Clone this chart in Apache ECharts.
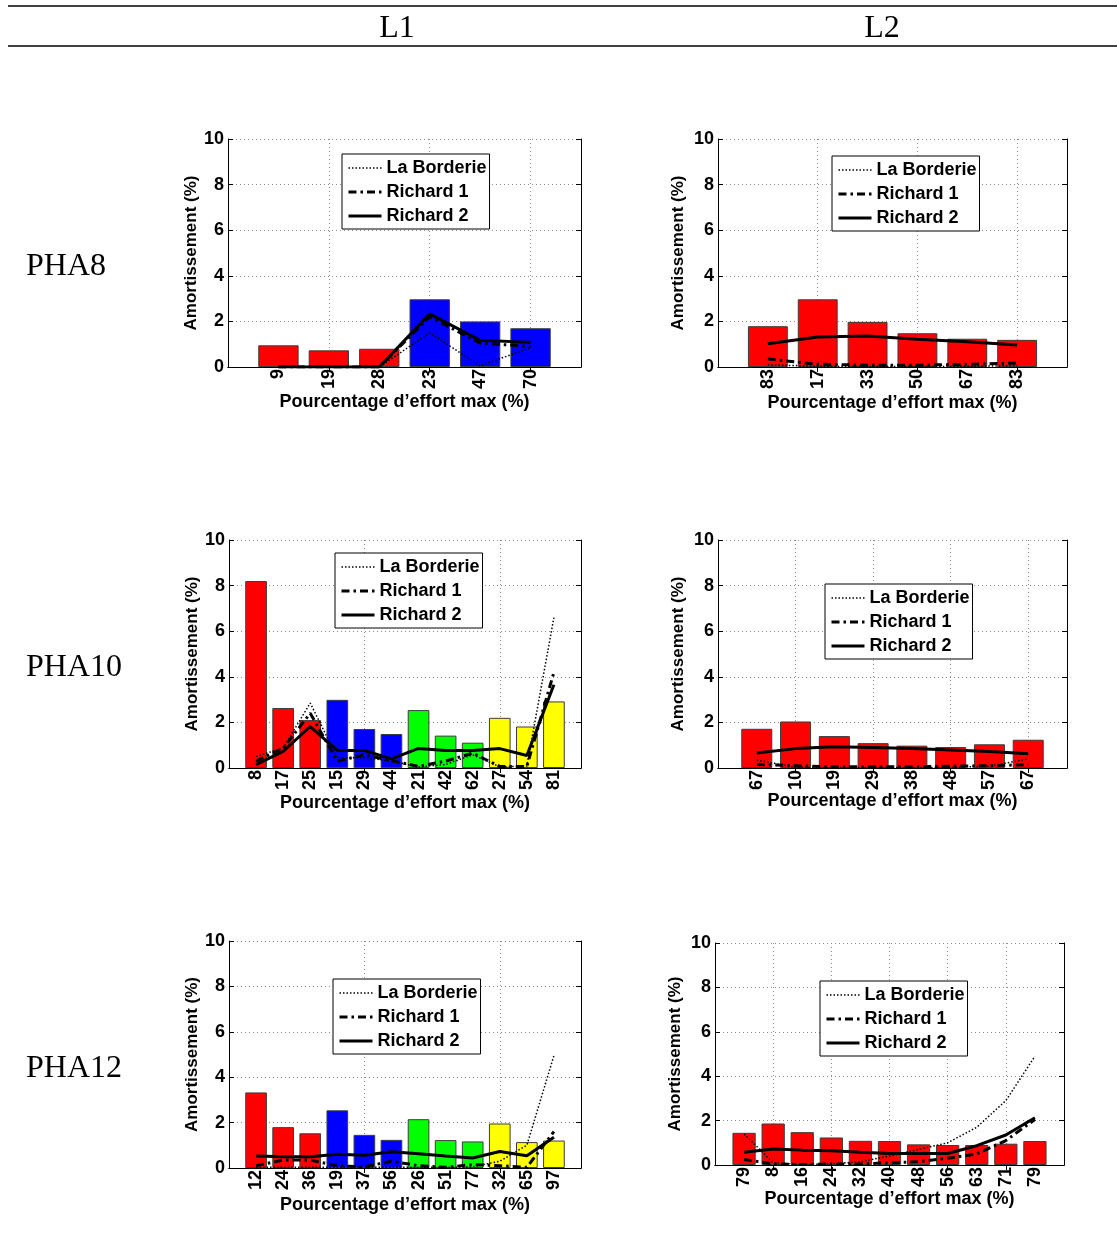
<!DOCTYPE html>
<html>
<head>
<meta charset="utf-8">
<script src="https://cdn.jsdelivr.net/npm/echarts@6/dist/echarts.min.js"></script>
<style>
  html, body { margin: 0; padding: 0; background: #fff; }
  #chart { width: 1117px; height: 1243px; }
</style>
</head>
<body>
<div id="chart"></div>
<script>
// PHA8 / L1
const pha8L1Labels = ['9', '19', '28', '23', '47', '70'];
const pha8L1Group = [0, 0, 0, 1, 1, 1];
const pha8L1Bars = [0.95, 0.73, 0.80, 2.97, 2.0, 1.70];
const pha8L1Borderie = [0, 0, 0, 1.5, 0.05, 0.85];
const pha8L1Richard1 = [0, 0, 0, 2.2, 1.05, 0.9];
const pha8L1Richard2 = [0, 0, 0, 2.33, 1.17, 1.08];

// PHA8 / L2
const pha8L2Labels = ['83', '17', '33', '50', '67', '83'];
const pha8L2Group = [0, 0, 0, 0, 0, 0];
const pha8L2Bars = [1.79, 2.97, 1.98, 1.48, 1.24, 1.19];
const pha8L2Borderie = [0.1, 0.03, 0.02, 0.02, 0.03, 0.06];
const pha8L2Richard1 = [0.35, 0.12, 0.08, 0.08, 0.12, 0.17];
const pha8L2Richard2 = [1.02, 1.32, 1.36, 1.22, 1.11, 0.97];

// PHA10 / L1
const pha10L1Labels = ['8', '17', '25', '15', '29', '44', '21', '42', '62', '27', '54', '81'];
const pha10L1Group = [0, 0, 0, 1, 1, 1, 2, 2, 2, 3, 3, 3];
const pha10L1Bars = [8.2, 2.63, 2.1, 2.99, 1.71, 1.49, 2.54, 1.42, 1.11, 2.2, 1.82, 2.92];
const pha10L1Borderie = [0.5, 0.88, 2.85, 0.45, 0.45, 0.3, 0.05, 0.15, 0.58, 0.05, 0.08, 6.6];
const pha10L1Richard1 = [0.3, 0.87, 2.4, 0.3, 0.58, 0.32, 0.07, 0.3, 0.65, 0.07, 0.07, 4.2];
const pha10L1Richard2 = [0.15, 0.73, 1.82, 0.77, 0.77, 0.4, 0.86, 0.77, 0.77, 0.85, 0.55, 3.65];

// PHA10 / L2
const pha10L2Labels = ['67', '10', '19', '29', '38', '48', '57', '67'];
const pha10L2Group = [0, 0, 0, 0, 0, 0, 0, 0];
const pha10L2Bars = [1.72, 2.04, 1.4, 1.09, 0.98, 0.92, 1.04, 1.24];
const pha10L2Borderie = [0.35, 0.03, 0.02, 0.02, 0.02, 0.03, 0.08, 0.4];
const pha10L2Richard1 = [0.15, 0.1, 0.05, 0.05, 0.05, 0.08, 0.1, 0.15];
const pha10L2Richard2 = [0.66, 0.85, 0.93, 0.9, 0.85, 0.79, 0.72, 0.63];

// PHA12 / L1
const pha12L1Labels = ['12', '24', '36', '19', '37', '56', '26', '51', '77', '32', '65', '97'];
const pha12L1Group = [0, 0, 0, 1, 1, 1, 2, 2, 2, 3, 3, 3];
const pha12L1Bars = [3.33, 1.8, 1.53, 2.54, 1.46, 1.24, 2.15, 1.23, 1.17, 1.96, 1.14, 1.21];
const pha12L1Borderie = [0.03, 0.03, 0.03, 0.03, 0.03, 0.03, 0.03, 0.03, 0.05, 0.3, 1.0, 4.95];
const pha12L1Richard1 = [0.1, 0.35, 0.35, 0.1, 0.05, 0.3, 0.1, 0.03, 0.15, 0.1, 0.03, 1.6];
const pha12L1Richard2 = [0.53, 0.5, 0.5, 0.61, 0.56, 0.72, 0.63, 0.53, 0.44, 0.73, 0.54, 1.35];

// PHA12 / L2
const pha12L2Labels = ['79', '8', '16', '24', '32', '40', '48', '56', '63', '71', '79'];
const pha12L2Group = [0, 0, 0, 0, 0, 0, 0, 0, 0, 0, 0];
const pha12L2Bars = [1.45, 1.87, 1.48, 1.24, 1.09, 1.08, 0.93, 0.9, 0.9, 0.96, 1.08];
const pha12L2Borderie = [1.4, 0.1, 0.02, 0.05, 0.15, 0.4, 0.7, 1.0, 1.7, 2.9, 4.9];
const pha12L2Richard1 = [0.25, 0.05, 0.02, 0.05, 0.05, 0.1, 0.15, 0.3, 0.5, 1.1, 2.05];
const pha12L2Richard2 = [0.57, 0.72, 0.67, 0.64, 0.57, 0.52, 0.52, 0.52, 0.87, 1.35, 2.13];

const colLabels = ['L1', 'L2'];
const rowLabels = ['PHA8', 'PHA10', 'PHA12'];
const seriesNames = ['La Borderie', 'Richard 1', 'Richard 2'];
const yTicks = { min: 0, max: 10, step: 2 };

const FONT = '"Liberation Sans", Arial, sans-serif';
const SERIF = '"Liberation Serif", "DejaVu Serif", serif';
const palette = ['#ff0000', '#0000ff', '#00ff00', '#ffff00'];
const gridColor = '#8c8c8c';
const xName = 'Pourcentage d\u2019effort max (%)';
const yName = 'Amortissement (%)';

const panels = [
  { labels: pha8L1Labels, group: pha8L1Group, bars: pha8L1Bars, lines: [pha8L1Borderie, pha8L1Richard1, pha8L1Richard2],
    box: [228, 139, 353, 228], legendAt: [342, 154], gridStep: 2, xGap: 26, yGap: 28 },
  { labels: pha8L2Labels, group: pha8L2Group, bars: pha8L2Bars, lines: [pha8L2Borderie, pha8L2Richard1, pha8L2Richard2],
    box: [718, 139, 349, 228], legendAt: [832, 156], gridStep: 2, xGap: 27, yGap: 31 },
  { labels: pha10L1Labels, group: pha10L1Group, bars: pha10L1Bars, lines: [pha10L1Borderie, pha10L1Richard1, pha10L1Richard2],
    box: [229, 540, 352, 228], legendAt: [335, 553], gridStep: 5, xGap: 26, yGap: 28 },
  { labels: pha10L2Labels, group: pha10L2Group, bars: pha10L2Bars, lines: [pha10L2Borderie, pha10L2Richard1, pha10L2Richard2],
    box: [718, 540, 349, 228], legendAt: [825, 584], gridStep: 2, xGap: 24, yGap: 31 },
  { labels: pha12L1Labels, group: pha12L1Group, bars: pha12L1Bars, lines: [pha12L1Borderie, pha12L1Richard1, pha12L1Richard2],
    box: [229, 941, 352, 227], legendAt: [333, 979], gridStep: 5, xGap: 28, yGap: 28 },
  { labels: pha12L2Labels, group: pha12L2Group, bars: pha12L2Bars, lines: [pha12L2Borderie, pha12L2Richard1, pha12L2Richard2],
    box: [715, 943, 349, 222], legendAt: [820, 981], gridStep: 2, xGap: 25, yGap: 31 }
];

const lineStyles = [
  { color: '#000', width: 1.5, type: [1.5, 2] },
  { color: '#000', width: 3, type: [8, 4, 2.5, 4] },
  { color: '#000', width: 3, type: 'solid' }
];

const boldText = { color: '#000', fontSize: 18, fontWeight: 'bold', fontFamily: FONT };
const tickText = { color: '#000', fontSize: 17, fontWeight: 'bold', fontFamily: FONT };

const grid = [], xAxis = [], yAxis = [], series = [], legend = [];

panels.forEach(function (p, i) {
  const n = p.labels.length;
  const cats = [''].concat(p.labels, ['']);
  const onGrid = function (idx) { return idx > 0 && idx < n + 1 && idx % p.gridStep === 0; };

  grid.push({ left: p.box[0], top: p.box[1], width: p.box[2], height: p.box[3] });

  xAxis.push({
    type: 'category', gridIndex: i, data: cats, boundaryGap: false, position: 'bottom',
    axisLine: { lineStyle: { color: '#000', width: 1 } },
    axisTick: { show: true, inside: true, length: 5, interval: onGrid, lineStyle: { color: '#000' } },
    axisLabel: Object.assign({ interval: 0, rotate: 90, margin: 2 }, boldText),
    splitLine: { show: true, interval: onGrid, lineStyle: { color: gridColor, width: 1, type: [1, 3] } },
    name: xName, nameLocation: 'middle', nameGap: p.xGap, nameMoveOverlap: false, nameTextStyle: boldText
  });
  xAxis.push({
    type: 'category', gridIndex: i, data: cats, boundaryGap: false, position: 'top',
    axisLine: { lineStyle: { color: '#000', width: 1 } },
    axisTick: { show: true, inside: true, length: 5, interval: onGrid, lineStyle: { color: '#000' } },
    axisLabel: { show: false }, splitLine: { show: false }
  });
  yAxis.push({
    type: 'value', gridIndex: i, min: yTicks.min, max: yTicks.max, interval: yTicks.step, position: 'left',
    axisLine: { show: true, lineStyle: { color: '#000', width: 1 } },
    axisTick: { show: true, inside: true, length: 5, lineStyle: { color: '#000' } },
    axisLabel: Object.assign({ margin: 4 }, boldText),
    splitLine: { show: true, lineStyle: { color: gridColor, width: 1, type: [1, 3] } },
    name: yName, nameLocation: 'middle', nameGap: p.yGap, nameRotate: 90, nameMoveOverlap: false, nameTextStyle: tickText
  });
  yAxis.push({
    type: 'value', gridIndex: i, min: yTicks.min, max: yTicks.max, interval: yTicks.step, position: 'right',
    axisLine: { show: true, lineStyle: { color: '#000', width: 1 } },
    axisTick: { show: true, inside: true, length: 5, lineStyle: { color: '#000' } },
    axisLabel: { show: false }, splitLine: { show: false }
  });

  series.push({
    type: 'bar', name: 'bars' + i, xAxisIndex: i * 2, yAxisIndex: i * 2, barWidth: '80%', silent: true,
    itemStyle: { borderColor: '#3c3c3c', borderWidth: 1 },
    data: [null].concat(p.bars.map(function (v, k) {
      return { value: v, itemStyle: { color: palette[p.group[k]] } };
    }), [null])
  });
  p.lines.forEach(function (vals, s) {
    series.push({
      type: 'line', name: seriesNames[s], xAxisIndex: i * 2, yAxisIndex: i * 2,
      symbol: 'none', silent: true, z: 3 + s,
      lineStyle: lineStyles[s], itemStyle: { color: '#000' },
      data: ['-'].concat(vals, ['-'])
    });
  });

  legend.push({
    left: p.legendAt[0], top: p.legendAt[1], orient: 'vertical', selectedMode: false,
    data: seriesNames.map(function (nm, s) {
      return { name: nm, lineStyle: { color: '#000', width: lineStyles[s].width, type: lineStyles[s].type } };
    }),
    backgroundColor: '#fff', borderColor: '#000', borderWidth: 1, borderRadius: 0,
    padding: [5, 3, 4, 5], itemWidth: 33, itemHeight: 14, itemGap: 6,
    itemStyle: { color: 'rgba(0,0,0,0)', borderWidth: 0, opacity: 0 },
    textStyle: boldText
  });
});

const graphic = [
  { type: 'line', shape: { x1: 8, y1: 6, x2: 1117, y2: 6 }, style: { stroke: '#000', lineWidth: 1.5 } },
  { type: 'line', shape: { x1: 8, y1: 46, x2: 1117, y2: 46 }, style: { stroke: '#000', lineWidth: 1.5 } }
];
const colCenters = [397, 882];
colLabels.forEach(function (t, k) {
  graphic.push({ type: 'text', style: { x: colCenters[k], y: 29, text: t, textAlign: 'center', textVerticalAlign: 'middle',
    font: '32px ' + SERIF, fill: '#000' } });
});
const rowCenters = [267, 668, 1069];
rowLabels.forEach(function (t, k) {
  graphic.push({ type: 'text', style: { x: 26, y: rowCenters[k], text: t, textAlign: 'left', textVerticalAlign: 'middle',
    font: '32px ' + SERIF, fill: '#000' } });
});

const chart = echarts.init(document.getElementById('chart'));
chart.setOption({
  backgroundColor: '#fff',
  animation: false,
  grid: grid,
  xAxis: xAxis,
  yAxis: yAxis,
  legend: legend,
  series: series,
  graphic: graphic
});
</script>
</body>
</html>
